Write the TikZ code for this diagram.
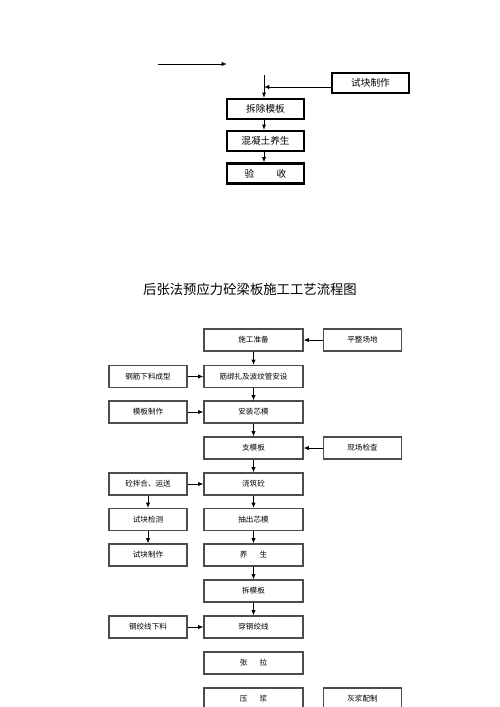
\documentclass[tikz,border=0pt]{standalone}
\usepackage{fontspec}
\newfontfamily\cjk{Noto Sans CJK SC}
\usetikzlibrary{arrows.meta}

\begin{document}
\begin{tikzpicture}[x=0.02cm, y=-0.02cm,
  heavybox/.style={draw, line width=1.3pt, minimum width=77*0.02cm, minimum height=20*0.02cm,
    inner sep=0pt, font=\cjk\fontsize{5.5pt}{6pt}\selectfont},
  flowbox/.style={draw=black!70, line width=0.6pt, minimum width=99*0.02cm, minimum height=22*0.02cm,
    inner sep=0pt, font=\cjk\fontsize{4.3pt}{5pt}\selectfont},
  sidebox/.style={flowbox, minimum width=78*0.02cm},
  flowarrow/.style={-{Latex[length=3pt,width=2.4pt]}, line width=0.5pt}]

\clip (0,0) rectangle (500,707);

%%upper part (end of the previous chart)
\coordinate (topa) at (158,64);
\coordinate (topb) at (227,64);
\coordinate (vtop) at (264,75);
\coordinate (vjoin) at (264,87);
\node[heavybox] (shikuai) at (370.5,83) {试块制作};
\node[heavybox] (chaimu) at (265.5,109) {拆除模板};
\node[heavybox] (yangsheng) at (265.5,141) {混凝土养生};
\node[heavybox] (yanshou) at (265.5,173.5) {验\hspace{2.3em}收};

\draw[flowarrow] (topa) -- (topb);
\draw[flowarrow] (vtop) -- (vtop |- chaimu.north);
\draw[flowarrow] (shikuai.west |- vjoin) -- (vjoin);
\draw[flowarrow] (vtop |- chaimu.south) -- (vtop |- yangsheng.north);
\draw[flowarrow] (vtop |- yangsheng.south) -- (vtop |- yanshou.north);

%%title
\node[font=\cjk\fontsize{7.6pt}{9pt}\selectfont] (title) at (250,289) {后张法预应力砼梁板施工工艺流程图};

%%main column
\node[flowbox] (zhunbei) at (253.5,340) {施工准备};
\node[flowbox] (bangza) at (253.5,376.5) {筋绑扎及波纹管安设};
\node[flowbox] (xinmo) at (253.5,412) {安装芯模};
\node[flowbox] (zhimo) at (253.5,448) {支模板};
\node[flowbox] (jiaozhu) at (253.5,484) {浇筑砼};
\node[flowbox] (chouchu) at (253.5,519.5) {抽出芯模};
\node[flowbox] (yang) at (253.5,555) {养\hspace{1.6em}生};
\node[flowbox] (chaimb) at (253.5,591) {拆模板};
\node[flowbox] (chuan) at (253.5,627) {穿钢绞线};
\node[flowbox] (zhangla) at (253.5,663) {张\hspace{1.6em}拉};
\node[flowbox] (yajiang) at (253.5,699) {压\hspace{1.6em}浆};

%%left column
\node[sidebox] (gangjin) at (148,376.5) {钢筋下料成型};
\node[sidebox] (muban) at (148,412) {模板制作};
\node[sidebox] (banhe) at (148,484) {砼拌合、运送};
\node[sidebox] (jiance) at (148,519.5) {试块检测};
\node[sidebox] (zhizuo) at (148,555) {试块制作};
\node[sidebox] (jiaoxian) at (148,627) {钢绞线下料};

%%right column
\node[sidebox] (pingzheng) at (362.5,340) {平整场地};
\node[sidebox] (xianchang) at (362.5,448) {现场检查};
\node[sidebox] (huijiang) at (362.5,699) {灰浆配制};

%%connectors
\draw[flowarrow] (zhunbei) -- (bangza);
\draw[flowarrow] (bangza) -- (xinmo);
\draw[flowarrow] (xinmo) -- (zhimo);
\draw[flowarrow] (zhimo) -- (jiaozhu);
\draw[flowarrow] (jiaozhu) -- (chouchu);
\draw[flowarrow] (chouchu) -- (yang);
\draw[flowarrow] (yang) -- (chaimb);
\draw[flowarrow] (chaimb) -- (chuan);
\draw[flowarrow] (pingzheng) -- (zhunbei);
\draw[flowarrow] (xianchang) -- (zhimo);
\draw[flowarrow] (gangjin) -- (bangza);
\draw[flowarrow] (muban) -- (xinmo);
\draw[flowarrow] (banhe) -- (jiaozhu);
\draw[flowarrow] (banhe) -- (jiance);
\draw[flowarrow] (jiance) -- (zhizuo);
\draw[flowarrow] (jiaoxian) -- (chuan);

\end{tikzpicture}
\end{document}
